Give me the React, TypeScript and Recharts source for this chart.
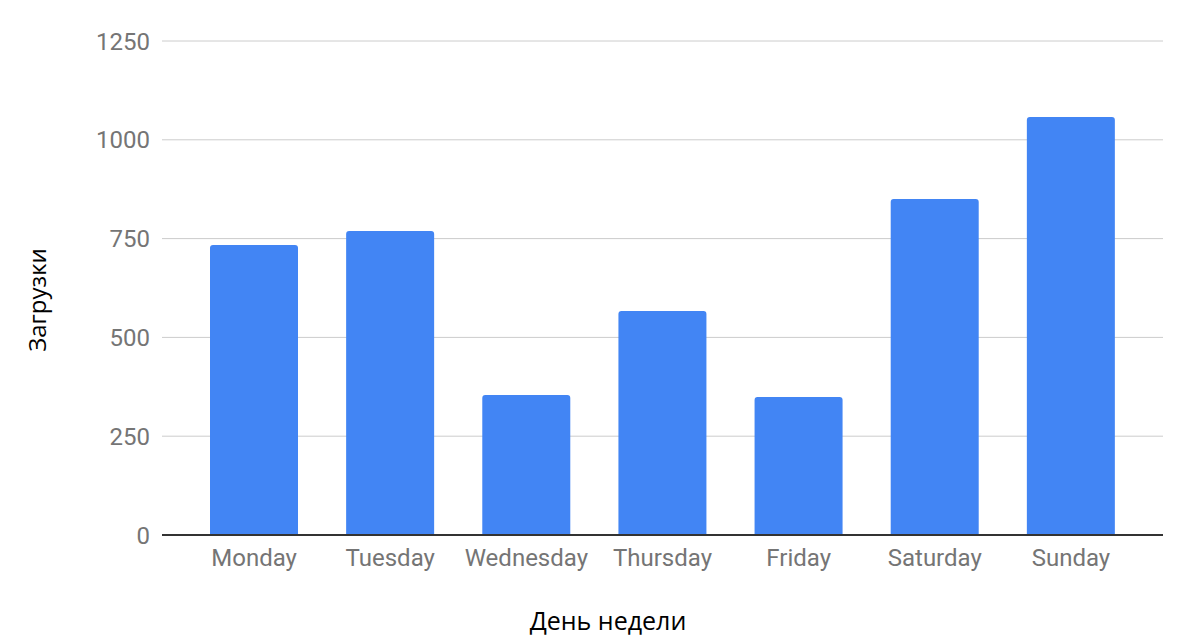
import { BarChart, Bar, XAxis, YAxis, CartesianGrid } from 'recharts';

const days = ['Monday', 'Tuesday', 'Wednesday', 'Thursday', 'Friday', 'Saturday', 'Sunday'];
const downloads = [734, 769, 354, 567, 349, 850, 1058];
const yTicks = [0, 250, 500, 750, 1000, 1250];

const data = days.map((day, i) => ({ day, downloads: downloads[i] }));

const tickStyle = { fill: '#757575', fontSize: 24, fontFamily: 'Roboto' };

export default function App() {
    return (
        <div style={{ position: 'absolute', left: 0, top: 0, width: 1200, height: 644, background: '#fff' }}>
            <BarChart
                width={1200}
                height={644}
                data={data}
                margin={{ top: 41, right: 37, bottom: 79, left: 0 }}
            >
                <CartesianGrid stroke="#cccccc" vertical={false} />
                <XAxis
                    dataKey="day"
                    height={30}
                    padding={{ left: 24, right: 24 }}
                    axisLine={{ stroke: '#333333', strokeWidth: 2 }}
                    tickLine={false}
                    tickSize={0}
                    tickMargin={14}
                    tick={tickStyle}
                    interval={0}
                />
                <YAxis
                    width={162}
                    domain={[0, 1250]}
                    ticks={yTicks}
                    axisLine={false}
                    tickLine={false}
                    tickSize={0}
                    tickMargin={12}
                    tick={tickStyle}
                />
                <Bar dataKey="downloads" fill="#4285f4" barSize={88} radius={[3, 3, 0, 0]} isAnimationActive={false} />
            </BarChart>
            <div
                style={{
                    position: 'absolute',
                    left: 0,
                    width: 1216,
                    top: 603,
                    textAlign: 'center',
                    fontFamily: 'Open Sans',
                    fontSize: 25,
                    color: '#000',
                }}
            >
                День недели
            </div>
            <div
                style={{
                    position: 'absolute',
                    left: 36,
                    top: 300,
                    transform: 'translate(-50%, -50%) rotate(-90deg)',
                    whiteSpace: 'nowrap',
                    fontFamily: 'Open Sans',
                    fontSize: 24,
                    color: '#000',
                }}
            >
                Загрузки
            </div>
        </div>
    );
}
